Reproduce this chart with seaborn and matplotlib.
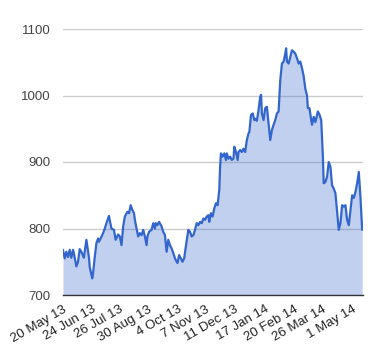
import pandas as pd
import seaborn as sns
import matplotlib.pyplot as plt

# days since 20 May 2013 and closing values
day = [0, 2, 4, 6, 8, 10, 12, 13, 16, 18, 20, 22, 25, 28, 31, 32, 35, 36, 38, 40,
       42, 43, 45, 48, 50, 52, 55, 56, 58, 61, 63, 66, 68, 70, 72, 74, 77, 79, 81, 83,
       85, 86, 88, 90, 92, 94, 96, 98, 100, 101, 103, 106, 108, 110, 111, 113, 115, 118, 120, 122,
       124, 126, 128, 130, 132, 134, 137, 139, 141, 143, 145, 147, 150, 152, 154, 156, 158, 160, 162, 164,
       166, 168, 170, 172, 174, 175, 177, 179, 181, 183, 185, 187, 188, 189, 191, 193, 195, 196, 198, 200,
       202, 204, 205, 207, 209, 210, 212, 214, 216, 218, 220, 222, 223, 225, 227, 229, 230, 232, 234, 236,
       237, 238, 240, 242, 244, 246, 248, 250, 252, 254, 256, 258, 260, 262, 264, 266, 267, 268, 270, 272,
       274, 276, 278, 280, 282, 284, 286, 288, 290, 292, 293, 295, 297, 298, 300, 302, 304, 305, 307, 309,
       311, 312, 314, 316, 318, 320, 322, 324, 326, 328, 330, 332, 334, 336, 338, 340, 342, 344, 346, 348,
       350, 352, 354, 356, 358]
price = [768, 755, 765, 757, 768, 756, 768, 763, 743, 750, 769, 765, 756, 783, 757, 742, 725, 733, 757, 778,
         785, 780, 785, 793, 800, 808, 819, 812, 800, 798, 783, 791, 788, 775, 803, 818, 825, 823, 835, 828,
         823, 813, 800, 788, 793, 790, 798, 788, 775, 788, 795, 798, 808, 800, 808, 805, 810, 803, 795, 790,
         765, 783, 775, 770, 763, 755, 748, 760, 755, 750, 755, 773, 798, 795, 788, 790, 798, 808, 805, 810,
         808, 815, 813, 818, 820, 810, 823, 818, 830, 838, 835, 858, 893, 913, 908, 913, 903, 913, 905, 908,
         903, 905, 923, 915, 903, 915, 918, 915, 920, 915, 933, 943, 945, 971, 973, 963, 965, 962, 978, 998,
         1001, 973, 963, 981, 983, 958, 933, 948, 956, 963, 973, 976, 1023, 1048, 1051, 1063, 1071, 1051, 1048, 1058,
         1068, 1066, 1063, 1056, 1048, 1051, 1041, 1029, 1010, 1000, 981, 981, 963, 956, 968, 960, 971, 976, 971, 963,
         908, 868, 870, 878, 900, 893, 865, 860, 853, 825, 798, 808, 835, 833, 835, 813, 805, 828, 850, 846,
         855, 868, 885, 846, 798]

tick_dates = ["2013-05-20", "2013-06-24", "2013-07-26", "2013-08-30", "2013-10-04", "2013-11-07",
              "2013-12-11", "2014-01-17", "2014-02-20", "2014-03-26", "2014-05-01"]
tick_labels = ["20 May 13", "24 Jun 13", "26 Jul 13", "30 Aug 13", "4 Oct 13", "7 Nov 13",
               "11 Dec 13", "17 Jan 14", "20 Feb 14", "26 Mar 14", "1 May 14"]
y_ticks = [700, 800, 900, 1000, 1100]

start = pd.Timestamp("2013-05-20")
df = pd.DataFrame({"date": start + pd.to_timedelta(day, unit="D"), "price": price})

sns.set_style("white")
plt.rcParams["font.family"] = ["Liberation Sans", "DejaVu Sans"]

fig = plt.figure(figsize=(3.8, 3.6), dpi=100)
ax = fig.add_axes([63 / 380, 1 - 295 / 360, 300 / 380, 266 / 360])

color = "#3366cc"
ax.fill_between(df["date"], df["price"], 700, color=color, alpha=0.3, linewidth=0, zorder=2)
sns.lineplot(data=df, x="date", y="price", ax=ax, color=color, linewidth=1.6, zorder=3)

ax.set_xlim(start, start + pd.Timedelta(days=359))
ax.set_ylim(700, 1100)
ax.set_yticks(y_ticks)
ax.set_yticklabels([str(v) for v in y_ticks], fontsize=9.5, color="#444444")
ax.set_xticks(pd.to_datetime(tick_dates))
ax.set_xticklabels(tick_labels, rotation=30, ha="right", rotation_mode="anchor",
                   fontsize=9.5, color="#222222")
ax.tick_params(axis="both", length=0)
ax.tick_params(axis="y", pad=9)
ax.tick_params(axis="x", pad=6)

ax.grid(axis="y", color="#cccccc", linewidth=1, zorder=1)
ax.set_axisbelow(True)
for s in ["top", "right", "left"]:
    ax.spines[s].set_visible(False)
ax.spines["bottom"].set_color("#333333")
ax.spines["bottom"].set_linewidth(1)
ax.spines["bottom"].set_zorder(4)
ax.set_xlabel("")
ax.set_ylabel("")

fig.savefig("out.png", dpi=100)
